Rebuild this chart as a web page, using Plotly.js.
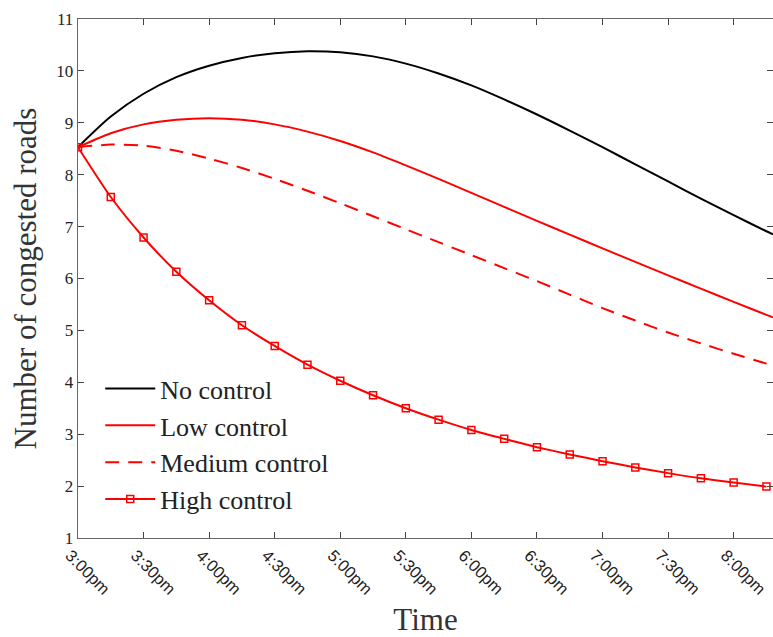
<!DOCTYPE html>
<html>
<head>
<meta charset="utf-8">
<script src="https://cdn.plot.ly/plotly-3.0.1.min.js"></script>
<style>html,body{margin:0;padding:0;background:#fff;}#chart{width:773px;height:637px;}</style>
</head>
<body>
<div id="chart"></div>
<script>
// minutes after 3:00pm
const timeMin = [0,15,30,45,60,75,90,105,120,135,150,165,180,195,210,225,240,255,270,285,300,315,318];
const noControl =     [8.53,9.12,9.56,9.88,10.10,10.25,10.34,10.38,10.36,10.28,10.14,9.95,9.72,9.45,9.16,8.85,8.53,8.20,7.87,7.54,7.22,6.91,6.85];
const lowControl =    [8.53,8.80,8.97,9.06,9.09,9.06,8.97,8.83,8.65,8.43,8.18,7.92,7.65,7.38,7.11,6.845,6.58,6.32,6.06,5.805,5.55,5.30,5.25];
const mediumControl = [8.53,8.58,8.56,8.46,8.31,8.13,7.92,7.69,7.45,7.20,6.95,6.70,6.45,6.20,5.95,5.69,5.43,5.19,4.96,4.75,4.55,4.36,4.32];
const highTime = [0,15,30,45,60,75,90,105,120,135,150,165,180,195,210,225,240,255,270,285,300,315];
const highControl =   [8.53,7.57,6.79,6.13,5.58,5.10,4.70,4.34,4.03,3.75,3.50,3.28,3.08,2.91,2.75,2.61,2.48,2.36,2.25,2.15,2.07,1.99];
const tickMin = [0,30,60,90,120,150,180,210,240,270,300];
const tickLabels = ['3:00pm','3:30pm','4:00pm','4:30pm','5:00pm','5:30pm','6:00pm','6:30pm','7:00pm','7:30pm','8:00pm'];
const yTicks = [1,2,3,4,5,6,7,8,9,10,11];

const serif = 'Liberation Serif, Times New Roman, serif';
const sans = 'Liberation Sans, Arial, sans-serif';

const traces = [
  {x: timeMin, y: noControl, name: 'No control', mode: 'lines',
   line: {color: '#000000', width: 2, shape: 'spline', smoothing: 0.8}},
  {x: timeMin, y: lowControl, name: 'Low control', mode: 'lines',
   line: {color: '#ff0000', width: 2, shape: 'spline', smoothing: 0.8}},
  {x: timeMin, y: mediumControl, name: 'Medium control', mode: 'lines',
   line: {color: '#ff0000', width: 2, dash: '14px,9px', shape: 'spline', smoothing: 0.8}},
  {x: highTime, y: highControl, name: 'High control', mode: 'lines+markers',
   line: {color: '#ff0000', width: 2, shape: 'spline', smoothing: 0.6},
   marker: {symbol: 'square-open', size: 7, color: '#ff0000', line: {width: 1.5, color: '#ff0000'}}}
];

const layout = {
  width: 773, height: 637,
  margin: {l: 78, r: 0, t: 19, b: 99},
  paper_bgcolor: '#ffffff', plot_bgcolor: '#ffffff',
  showlegend: true,
  legend: {x: 0.032, y: 0.333, xanchor: 'left', yanchor: 'top',
    bgcolor: 'rgba(0,0,0,0)', font: {family: serif, size: 26, color: '#222'},
    tracegroupgap: 0, itemwidth: 50},
  xaxis: {
    range: [0, 318], tickmode: 'array', tickvals: tickMin, ticktext: tickLabels,
    tickangle: 45, ticks: 'inside', ticklen: 6, tickcolor: '#444', tickwidth: 1,
    ticklabeloverflow: 'allow', ticklabelshift: -8, automargin: true,
    showline: true, linecolor: '#666', linewidth: 1.3, mirror: 'ticks',
    showgrid: false, zeroline: false,
    tickfont: {family: sans, size: 16.5, color: '#222'},
    title: {text: 'Time', font: {family: serif, size: 31, color: '#333'}, standoff: 12}
  },
  yaxis: {
    range: [1, 11], tickmode: 'array', tickvals: yTicks,
    ticks: 'inside', ticklen: 6, tickcolor: '#444', tickwidth: 1,
    showline: true, linecolor: '#666', linewidth: 1.3, mirror: 'ticks',
    showgrid: false, zeroline: false,
    tickfont: {family: serif, size: 17, color: '#222'},
    title: {text: 'Number of congested roads', font: {family: serif, size: 31, color: '#333'}, standoff: 10}
  }
};

Plotly.newPlot('chart', traces, layout, {displayModeBar: false, staticPlot: true});
</script>
</body>
</html>
